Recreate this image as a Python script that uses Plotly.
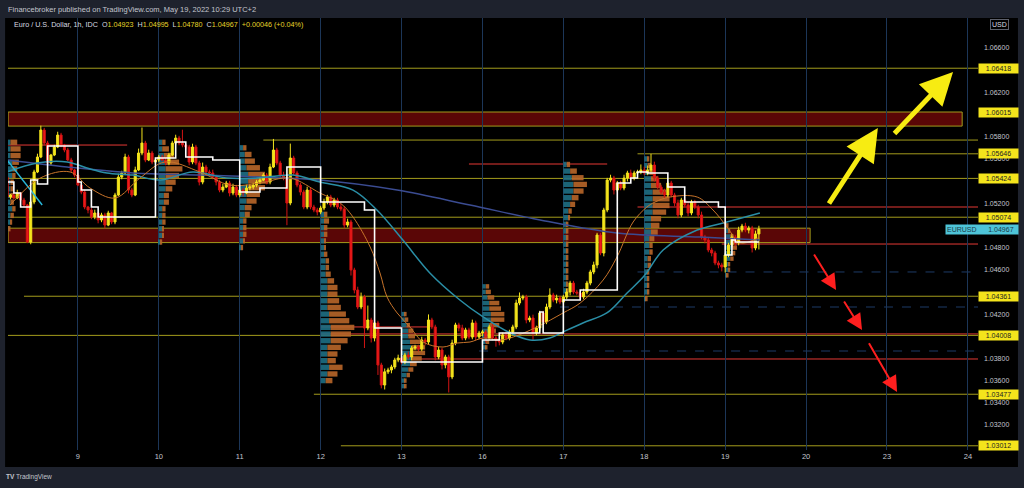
import plotly.graph_objects as go

# ---------------- DATA ----------------
day_ticks = [24, 48, 72, 96, 120, 144, 168, 192, 216, 240, 264, 288]
day_labels = ["9", "10", "11", "12", "13", "16", "17", "18", "19", "20", "23", "24"]

first_bar = 3
first_open = 1.05436
close_d06 = [1.05256, 1.05274, 1.05247, 1.05292, 1.05229, 1.05184, 1.04850, 1.05211, 1.05482, 1.05617, 1.05860,
             1.05743, 1.05563, 1.05635, 1.05707, 1.05815, 1.05725, 1.05680, 1.05590, 1.05500, 1.05454]
close_d09 = [1.05364, 1.05301, 1.05166, 1.05139, 1.05076, 1.05112, 1.05049, 1.05094, 1.05003, 1.05112, 1.05031, 1.05274,
             1.05436, 1.05473, 1.05617, 1.05319, 1.05274, 1.05500, 1.05653, 1.05743, 1.05590, 1.05653, 1.05572, 1.05590]
close_d10 = [1.05617, 1.05590, 1.05563, 1.05635, 1.05743, 1.05788, 1.05743, 1.05725, 1.05707, 1.05572, 1.05707, 1.05563,
             1.05391, 1.05527, 1.05482, 1.05473, 1.05436, 1.05391, 1.05319, 1.05346, 1.05382, 1.05292, 1.05346, 1.05274]
close_d11 = [1.05319, 1.05292, 1.05337, 1.05346, 1.05364, 1.05391, 1.05409, 1.05454, 1.05391, 1.05527, 1.05680, 1.05563,
             1.05454, 1.05427, 1.05202, 1.05608, 1.05473, 1.05364, 1.05301, 1.05166, 1.05319, 1.05166, 1.05139, 1.05121]
close_d12 = [1.05157, 1.05211, 1.05256, 1.05184, 1.05229, 1.05166, 1.05148, 1.05003, 1.05031, 1.04598, 1.04417, 1.04264,
             1.04354, 1.04074, 1.04147, 1.03984, 1.04120, 1.03741, 1.03560, 1.03679, 1.03696, 1.03723, 1.03786, 1.03804]
close_d13 = [1.03768, 1.03831, 1.03813, 1.03894, 1.03903, 1.03885, 1.03966, 1.03948, 1.04147, 1.04084, 1.03813, 1.03876,
             1.03741, 1.03813, 1.03633, 1.03939, 1.04102, 1.04074, 1.03984, 1.04057, 1.03993, 1.04120, 1.03993, 1.04029]
close_d16 = [1.04039, 1.03984, 1.04084, 1.03984, 1.03966, 1.03948, 1.04012, 1.03984, 1.04039, 1.04084, 1.04300, 1.04345,
             1.04354, 1.04147, 1.04165, 1.04030, 1.04075, 1.04210, 1.04129, 1.04264, 1.04372, 1.04327, 1.04345, 1.04309]
close_d17 = [1.04354, 1.04399, 1.04480, 1.04399, 1.04390, 1.04354, 1.04399, 1.04480, 1.04580, 1.04643, 1.04913, 1.04751,
             1.05139, 1.05409, 1.05427, 1.05319, 1.05382, 1.05337, 1.05427, 1.05473, 1.05427, 1.05473, 1.05482, 1.05500]
close_d18 = [1.05473, 1.05500, 1.05545, 1.05427, 1.05346, 1.05301, 1.05274, 1.05382, 1.05274, 1.05202, 1.05094, 1.05229,
             1.05184, 1.05112, 1.05211, 1.05166, 1.05094, 1.04895, 1.04868, 1.04778, 1.04751, 1.04661, 1.04643, 1.04625]
close_d19 = [1.04733, 1.04823, 1.04895, 1.04841, 1.04958, 1.04994, 1.04958, 1.04976, 1.04796, 1.04923, 1.04967]

# wick lengths in pips, per bar
up_d06 = [2, 1, 2, 3, 1, 2, 1, 2, 2, 3, 4, 2, 2, 1, 2, 3, 2, 1, 2, 2, 1]
dn_d06 = [2, 2, 1, 1, 2, 2, 1, 2, 2, 1, 1, 2, 1, 2, 1, 1, 2, 2, 1, 2, 2]
up_d09 = [2, 1, 2, 1, 2, 3, 1, 2, 2, 2, 1, 2, 3, 2, 3, 2, 2, 3, 4, 14, 2, 3, 2, 2]
dn_d09 = [1, 2, 2, 3, 2, 2, 3, 2, 3, 1, 2, 2, 1, 2, 2, 3, 2, 1, 1, 2, 2, 1, 2, 2]
up_d10 = [2, 2, 3, 2, 2, 3, 2, 12, 1, 2, 3, 2, 2, 4, 2, 2, 3, 2, 2, 3, 2, 2, 3, 2]
dn_d10 = [2, 1, 2, 2, 1, 2, 2, 2, 2, 3, 2, 2, 3, 2, 2, 1, 2, 3, 2, 2, 1, 3, 2, 2]
up_d11 = [2, 2, 3, 2, 2, 2, 3, 2, 2, 3, 10, 2, 2, 3, 2, 13, 2, 2, 2, 2, 3, 2, 2, 2]
dn_d11 = [2, 3, 1, 2, 2, 2, 2, 1, 2, 2, 1, 2, 3, 2, 20, 2, 2, 2, 3, 2, 2, 2, 2, 3]
up_d12 = [2, 3, 2, 2, 2, 2, 3, 2, 3, 2, 2, 3, 4, 2, 13, 2, 3, 2, 2, 3, 2, 2, 2, 3]
dn_d12 = [2, 2, 2, 2, 2, 2, 2, 3, 2, 5, 3, 2, 2, 18, 2, 4, 3, 9, 3, 4, 2, 3, 2, 2]
up_d13 = [2, 2, 3, 2, 2, 2, 3, 2, 5, 2, 2, 3, 2, 2, 2, 3, 2, 2, 3, 2, 2, 3, 2, 2]
dn_d13 = [2, 2, 2, 3, 2, 2, 2, 3, 2, 2, 3, 2, 4, 3, 14, 2, 2, 3, 2, 2, 2, 2, 3, 2]
up_d16 = [2, 2, 2, 3, 2, 2, 2, 3, 2, 2, 3, 5, 2, 2, 2, 3, 2, 2, 2, 3, 6, 2, 3, 2]
dn_d16 = [3, 4, 2, 2, 6, 3, 2, 2, 2, 3, 2, 2, 2, 3, 2, 7, 2, 3, 2, 2, 2, 2, 3, 2]
up_d17 = [2, 3, 2, 2, 2, 2, 3, 2, 2, 3, 2, 2, 2, 2, 3, 2, 2, 2, 3, 2, 3, 2, 2, 5]
dn_d17 = [2, 2, 3, 2, 2, 3, 2, 2, 2, 2, 3, 2, 3, 2, 2, 4, 2, 2, 2, 3, 2, 2, 2, 2]
up_d18 = [3, 4, 10, 3, 2, 2, 3, 2, 2, 2, 3, 2, 2, 3, 2, 2, 2, 3, 2, 2, 2, 2, 2, 2]
dn_d18 = [2, 2, 2, 3, 2, 2, 3, 2, 2, 3, 3, 2, 2, 3, 2, 2, 3, 2, 3, 2, 3, 2, 3, 4]
up_d19 = [2, 2, 3, 2, 3, 2, 3, 2, 2, 3, 3]
dn_d19 = [5, 2, 2, 3, 2, 2, 2, 3, 4, 2, 14]

# indicator lines (bar index, price)
white_x = [3, 5, 7, 10, 12, 15, 24, 25, 28, 30, 47, 53, 56, 64, 72, 78, 86, 96, 109, 112, 120, 144, 149, 161, 162,
           168, 173, 184, 188, 190, 193, 199, 204, 214, 216, 218, 219, 226]
white_y = [1.05391, 1.05292, 1.05166, 1.05409, 1.05373, 1.05716, 1.05391, 1.05319, 1.05166, 1.05076, 1.05608, 1.05752,
           1.05617, 1.05590, 1.05301, 1.05337, 1.05527, 1.05211, 1.05139, 1.04075, 1.03768, 1.03966, 1.04030, 1.04219,
           1.04030, 1.04327, 1.04417, 1.05382, 1.05427, 1.05482, 1.05473, 1.05346, 1.05211, 1.05166, 1.04733, 1.04868,
           1.04850, 1.04850]
orange_x = [3.9, 12.8, 21.7, 27.6, 35.0, 42.4, 49.8, 60.2, 69.1, 78.0, 86.9, 95.8, 101.8, 105.6, 110.7, 113.6, 115.7,
            118.7, 122.5, 126.4, 132.3, 136.5, 140.3, 144.2, 149.2, 153.1, 160.2, 167.9, 173.0, 179.8, 183.9, 188.7,
            192.8, 195.2, 199.6, 207.7, 212.4, 216.6, 220.4, 225.7]
orange_y = [1.05184, 1.05427, 1.05482, 1.05337, 1.05247, 1.05427, 1.05572, 1.05482, 1.05364, 1.05382, 1.05427, 1.05292,
            1.05202, 1.05076, 1.04805, 1.04571, 1.04354, 1.04210, 1.04084, 1.03948, 1.03903, 1.03939, 1.03948, 1.03984,
            1.03966, 1.03993, 1.04084, 1.04210, 1.04300, 1.04507, 1.04715, 1.05031, 1.05166, 1.05211, 1.05256, 1.05256,
            1.05139, 1.04985, 1.04841, 1.04886]
teal_x = [3.0, 11.9, 20.8, 26.7, 32.6, 40.3, 48.4, 58.1, 68.2, 77.1, 87.8, 95.8, 105.6, 112.7, 120.4, 128.4, 137.3,
          144.2, 152.2, 158.1, 164.0, 167.9, 173.8, 180.9, 186.9, 192.2, 197.6, 207.7, 215.4, 226.3]
teal_y = [1.05482, 1.05563, 1.05572, 1.05518, 1.05473, 1.05454, 1.05409, 1.05482, 1.05427, 1.05427, 1.05454, 1.05391,
          1.05319, 1.05139, 1.04868, 1.04571, 1.04327, 1.04174, 1.04030, 1.03966, 1.03984, 1.04039, 1.04120, 1.04210,
          1.04390, 1.04552, 1.04778, 1.04958, 1.05022, 1.05112]
navy_x = [3.3, 20.8, 40.3, 60.2, 78.0, 95.8, 118.7, 140.3, 161.1, 183.9, 208.5, 226.3]
navy_y = [1.05590, 1.05527, 1.05473, 1.05454, 1.05436, 1.05409, 1.05319, 1.05184, 1.05049, 1.04931, 1.04895, 1.04868]
cyan_x = [3.0, 13.4]
cyan_y = [1.05590, 1.05184]

# session volume profiles: start bar, top row price, row size, teal (lower-volume side) and orange lengths in bars
profile_start = [3, 48, 72, 96, 120, 144, 168, 192, 216]
profile_top = [1.0575, 1.0575, 1.0570, 1.0510, 1.0420, 1.0445, 1.0555, 1.0560, 1.0500]
profile_row = [0.0006, 0.0006, 0.0006, 0.0006, 0.0005, 0.0005, 0.0006, 0.0006, 0.0005]
profile_teal = [
    [1, 1, 1, 1.5, 1.5, 1.5, 1, 1, 1, 1, 1.5, 1, 1, 0.5],
    [1, 1, 1.5, 2, 2, 2, 2, 2, 1.5, 1.5, 1, 1, 1, 1, 1, 0.5],
    [1, 1.5, 1.5, 2, 2.5, 2.5, 2.5, 2, 2, 1.5, 1.5, 1, 1, 1, 1, 0.5],
    [1, 1, 1, 1, 1, 1, 1, 1.5, 1.5, 1.5, 2, 2, 2, 2, 2, 2.5, 2.5, 3, 3, 3, 2, 2, 2, 2.5, 2, 1.5],
    [1, 1, 1.5, 2, 2, 2.5, 3, 3, 3, 2.5, 2, 1.5, 1, 1],
    [1, 1, 1.5, 2, 2, 2.5, 2.5, 2, 2, 1.5, 1, 1],
    [1, 2, 2.5, 3, 3, 2.5, 2, 1.5, 1.5, 1, 1, 1, 1, 1, 1, 1, 1, 1, 1, 1],
    [1, 1, 1.5, 2, 2, 2.5, 2.5, 2.5, 2.5, 2, 2, 2, 1.5, 1.5, 1.5, 1, 1, 1, 1, 1, 1, 0.5],
    [0.5, 1, 1.5, 2, 2, 2, 1.5, 1, 1, 0.5],
]
profile_orange = [
    [2, 3, 3, 2, 1.5, 1, 1, 1, 1, 1, 1, 1, 0.5, 0.5],
    [1, 2, 3, 4, 5, 4, 3, 2, 1.5, 1.5, 1, 1, 1, 0.5, 0.5, 0.5],
    [1, 2, 3, 4, 5, 6, 5, 4, 3, 2, 1.5, 1, 1, 1, 0.5, 0.5],
    [1, 1.5, 1, 1, 0.5, 0.5, 1, 1, 1, 1.5, 2, 3, 3, 3.5, 4, 5, 6, 7, 6, 5, 4, 3, 2.5, 4, 3, 2],
    [0.5, 1, 1, 1.5, 2, 3, 4, 4, 3, 2, 1.5, 1, 0.5, 0.5],
    [1, 1.5, 2, 3, 3.5, 4, 4, 3, 2, 1.5, 1, 0.5],
    [1, 2, 3.5, 4, 3, 2, 1.5, 1, 0.5, 0.5, 0.5, 0.5, 0.5, 0.5, 0.5, 0.5, 0.5, 0.5, 0.5, 0.5],
    [0.5, 1, 1.5, 2, 3, 4, 5, 5, 4, 3, 2.5, 2, 1.5, 1, 1, 1, 1, 0.5, 0.5, 0.5, 0.5, 0.5],
    [0.5, 0.5, 1, 1.5, 1.5, 1, 1, 0.5, 0.5, 0.5],
]

# horizontal levels
level_price = [1.06418, 1.05770, 1.05646, 1.05424, 1.05166, 1.05074, 1.04832, 1.04580, 1.04361, 1.04264, 1.04021,
               1.04008, 1.03867, 1.03795, 1.03477, 1.03012, 1.05725, 1.05554, 1.04084]
level_from = [3, 79, 190, 3, 190, 3, 215, 190, 8, 167, 96, 3, 143, 119, 94, 102, 3, 140, 96]
level_to = [292, 292, 292, 292, 292, 292, 292, 292, 292, 292, 292, 292, 292, 292, 292, 292, 38.6, 181, 128]
level_kind = ["y", "y", "y", "y", "r", "y", "r", "n", "y", "n", "r", "y", "n", "r", "y", "y", "r", "r", "r"]

zone_low = [1.05896, 1.04845]
zone_high = [1.06023, 1.04975]
zone_from = [3.3, 3.3]
zone_to = [286.3, 241.2]

label_prices = [1.06418, 1.06015, 1.05646, 1.05424, 1.05074, 1.04361, 1.04008, 1.03477, 1.03012]
last_price = 1.04967
y_ticks = [1.032, 1.034, 1.036, 1.038, 1.042, 1.046, 1.048, 1.052, 1.056, 1.058, 1.062, 1.066]

# arrows: (head_x, head_y, tail_x, tail_y)
up_arrows = [(261.3, 1.05878, 246.5, 1.05184), (283.6, 1.06384, 265.8, 1.05815)]
down_arrows = [(248.9, 1.04417, 242.1, 1.04751), (256.6, 1.04057, 251.0, 1.04327), (267.0, 1.03497, 258.4, 1.03951)]

# ---------------- BUILD ----------------
closes = close_d06 + close_d09 + close_d10 + close_d11 + close_d12 + close_d13 + close_d16 + close_d17 + close_d18 + close_d19
ups = up_d06 + up_d09 + up_d10 + up_d11 + up_d12 + up_d13 + up_d16 + up_d17 + up_d18 + up_d19
dns = dn_d06 + dn_d09 + dn_d10 + dn_d11 + dn_d12 + dn_d13 + dn_d16 + dn_d17 + dn_d18 + dn_d19
n = min(len(closes), len(ups), len(dns))
closes = closes[:n]
opens = [first_open] + closes[:-1]
highs = [max(o, c) + u * 1e-4 for o, c, u in zip(opens, closes, ups)]
lows = [min(o, c) - d * 1e-4 for o, c, d in zip(opens, closes, dns)]
xs = list(range(first_bar, first_bar + n))

YEL = "#f4e41c"
RED = "#f01a1a"
OLIVE = "#a39b1c"
NAVY = "#1d3b66"

fig = go.Figure()

# volume profiles (drawn as horizontal bars from each session start)
for s, top, row, teal, orng in zip(profile_start, profile_top, profile_row, profile_teal, profile_orange):
    rows = [top - k * row for k in range(len(teal))]
    fig.add_trace(go.Bar(orientation="h", y=rows, x=teal, base=[s] * len(teal), width=row * 0.8,
                         marker=dict(color="#1f6f84", line=dict(width=0)), opacity=0.9, hoverinfo="skip"))
    fig.add_trace(go.Bar(orientation="h", y=rows, x=orng, base=[s + t for t in teal], width=row * 0.8,
                         marker=dict(color="#b8662a", line=dict(width=0)), opacity=0.9, hoverinfo="skip"))

fig.add_trace(go.Scatter(x=navy_x, y=navy_y, mode="lines", line=dict(color="#3b4c92", width=1.5, shape="spline"),
                         hoverinfo="skip"))
fig.add_trace(go.Scatter(x=teal_x, y=teal_y, mode="lines", line=dict(color="#2a8ea6", width=1.5, shape="spline"),
                         hoverinfo="skip"))
fig.add_trace(go.Scatter(x=cyan_x, y=cyan_y, mode="lines", line=dict(color="#29b6d8", width=1.5), hoverinfo="skip"))
fig.add_trace(go.Scatter(x=orange_x, y=orange_y, mode="lines", line=dict(color="#c8742a", width=1, shape="spline"),
                         hoverinfo="skip"))
fig.add_trace(go.Scatter(x=white_x, y=white_y, mode="lines", line=dict(color="#ffffff", width=1.6, shape="hv"),
                         hoverinfo="skip"))

fig.add_trace(go.Candlestick(
    x=xs, open=opens, high=highs, low=lows, close=closes,
    increasing=dict(fillcolor=YEL, line=dict(color=YEL, width=1)),
    decreasing=dict(fillcolor=RED, line=dict(color="#d41414", width=1)),
    whiskerwidth=0, hoverinfo="skip",
))

shapes = []
shapes.append(dict(type="rect", xref="paper", yref="paper", x0=-0.003, x1=1.0412, y0=-0.0394, y1=1.0,
                   fillcolor="#000000", line=dict(width=0), layer="below"))
for lo, hi, a, b in zip(zone_low, zone_high, zone_from, zone_to):
    shapes.append(dict(type="rect", xref="x", yref="y", x0=a, x1=b, y0=lo, y1=hi,
                       fillcolor="#5a0606", line=dict(color=OLIVE, width=1), layer="below"))
kind_color = {"y": OLIVE, "r": "#e53935", "n": NAVY}
kind_dash = {"y": "solid", "r": "solid", "n": "dash"}
for p, a, b, k in zip(level_price, level_from, level_to, level_kind):
    shapes.append(dict(type="line", xref="x", yref="y", x0=a, x1=b, y0=p, y1=p,
                       line=dict(color=kind_color[k], width=1, dash=kind_dash[k]), layer="below"))
fig.update_layout(shapes=shapes)

ann = []
for p in label_prices:
    ann.append(dict(xref="paper", yref="y", x=1.0, y=p, xanchor="left", yanchor="middle",
                    text=f"{p:.5f}", showarrow=False, bgcolor=YEL, width=37, borderpad=1,
                    font=dict(size=7, color="#222222", family="Liberation Sans")))
ann.append(dict(xref="paper", yref="y", x=0.9655, y=last_price, xanchor="left", yanchor="middle",
                text="EURUSD&nbsp;&nbsp;&nbsp;&nbsp;&nbsp;&nbsp;" + f"{last_price:.5f}", showarrow=False,
                bgcolor="#4ec4d8", width=70, align="left", borderpad=1,
                font=dict(size=7, color="#1b3a48", family="Liberation Sans")))
for hx, hy, tx, ty in up_arrows:
    ann.append(dict(x=hx, y=hy, ax=tx, ay=ty, xref="x", yref="y", axref="x", ayref="y", text="",
                    showarrow=True, arrowhead=2, arrowsize=1.3, arrowwidth=5, arrowcolor="#f7ec12"))
for hx, hy, tx, ty in down_arrows:
    ann.append(dict(x=hx, y=hy, ax=tx, ay=ty, xref="x", yref="y", axref="x", ayref="y", text="",
                    showarrow=True, arrowhead=2, arrowsize=1.6, arrowwidth=2, arrowcolor="#ff1f1f"))
ann.append(dict(xref="paper", yref="paper", x=-0.0021, y=1.0208, xanchor="left", yanchor="middle",
                text="Financebroker published on TradingView.com, May 19, 2022 10:29 UTC+2", showarrow=False,
                font=dict(size=7.5, color="#c3c6ce", family="Liberation Sans")))
Y = "#e6d52a"
legend = ("Euro / U.S. Dollar, 1h, IDC&nbsp;&nbsp;O<span style='color:%s'>1.04923</span>&nbsp;&nbsp;"
          "H<span style='color:%s'>1.04995</span>&nbsp;&nbsp;L<span style='color:%s'>1.04780</span>&nbsp;&nbsp;"
          "C<span style='color:%s'>1.04967</span>&nbsp;&nbsp;<span style='color:%s'>+0.00046 (+0.04%%)</span>") % (Y, Y, Y, Y, Y)
ann.append(dict(xref="paper", yref="paper", x=0.004, y=0.984, xanchor="left", yanchor="middle",
                text=legend, showarrow=False, font=dict(size=7.2, color="#d8dae0", family="Liberation Sans")))
ann.append(dict(xref="paper", yref="paper", x=1.022, y=0.984, xanchor="center", yanchor="middle",
                text="USD", showarrow=False, bordercolor="#5d606b", borderwidth=1, borderpad=1,
                font=dict(size=7, color="#d8dae0", family="Liberation Sans")))
ann.append(dict(xref="paper", yref="paper", x=-0.004, y=-0.0625, xanchor="left", yanchor="middle",
                text="<b>TV</b> TradingView", showarrow=False,
                font=dict(size=6.5, color="#c3c6ce", family="Liberation Sans")))
fig.update_layout(annotations=ann)

fig.update_layout(
    width=1024, height=488, autosize=False,
    margin=dict(l=8, r=46, t=18, b=38),
    paper_bgcolor="#1e222d", plot_bgcolor="#000000",
    showlegend=False, hovermode=False, barmode="overlay", boxgap=0.12,
    font=dict(family="Liberation Sans", color="#b2b5be"),
    xaxis=dict(range=[3.26, 291.0], tickmode="array", tickvals=day_ticks, ticktext=day_labels,
               showgrid=True, gridcolor="#1c3658", gridwidth=1, zeroline=False, showline=False, ticks="",
               tickfont=dict(size=7.5, color="#c3c6ce"), rangeslider=dict(visible=False), fixedrange=True),
    yaxis=dict(side="right", range=[1.02974, 1.06871], tickmode="array", tickvals=y_ticks, tickformat=".5f",
               showgrid=False, zeroline=False, showline=False, ticks="", ticklabelstandoff=5,
               tickfont=dict(size=7, color="#c3c6ce"), fixedrange=True),
)

fig.write_html("out.html")
